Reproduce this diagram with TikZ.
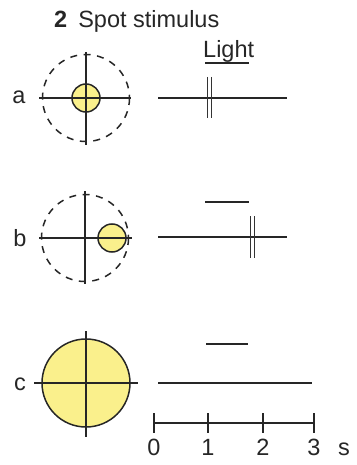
\documentclass[tikz,border=0pt]{standalone}
\usepackage{fontspec}
\setmainfont{Liberation Sans}
\begin{document}
\begin{tikzpicture}[x=1pt,y=-1pt,
  txt/.style={font=\fontsize{23.5}{28}\selectfont, inner sep=0pt, text=black!85},
  axis/.style={line width=1.5pt, black!85},
  dashcirc/.style={line width=1.5pt, black!85, dash pattern=on 7pt off 6.5pt},
  spot/.style={line width=1.5pt, black!85, fill=spotyellow},
  trace/.style={line width=1.2pt, black!85},
  spike/.style={line width=0.9pt, black!80},
  lightbar/.style={line width=1.6pt, black!85},
  scalebar/.style={line width=1.6pt, black!85}]
\definecolor{spotyellow}{RGB}{250,240,140}
\useasboundingbox (0,0) rectangle (356,465);

% title
\node[txt, anchor=base west] (title) at (54,28) {\textbf{2}\hspace{11pt}Spot stimulus};

% ---- row a ----
\coordinate (ca) at (86,98);
\draw[dashcirc] (ca) circle (43.5);
\draw[spot] (ca) circle (14);
\draw[axis] (39,98) -- (131,98);
\draw[axis] (86,52) -- (86,145);
\node[txt, anchor=base] (la) at (19,104) {a};
\node[txt, anchor=base west] (light) at (203,58) {Light};
\draw[lightbar] (205,63) -- (249,63);
\coordinate (ta0) at (158,98); \coordinate (ta1) at (287,98);
\draw[trace] (ta0) -- (ta1);
\draw[spike] (207.5,77) -- (207.5,118);
\draw[spike] (211.5,77) -- (211.5,118);

% ---- row b ----
\coordinate (cb) at (85,238);
\draw[dashcirc] (cb) circle (43.5);
\draw[spot] (112,238) circle (14);
\draw[axis] (39,238) -- (132,238);
\draw[axis] (85,191) -- (85,284);
\node[txt, anchor=base] (lb) at (20,246) {b};
\draw[lightbar] (205,202) -- (249,202);
\coordinate (tb0) at (158,237); \coordinate (tb1) at (287,237);
\draw[trace] (tb0) -- (tb1);
\draw[spike] (250,216) -- (250,258);
\draw[spike] (254,216) -- (254,258);

% ---- row c ----
\coordinate (cc) at (86,383);
\draw[spot] (cc) circle (44);
\draw[axis] (34,383) -- (138,383);
\draw[axis] (86,331) -- (86,437);
\node[txt, anchor=base] (lc) at (20,390) {c};
\draw[lightbar] (206,344) -- (248,344);
\coordinate (tc0) at (158,383); \coordinate (tc1) at (312,383);
\draw[trace] (tc0) -- (tc1);

% ---- scale bar ----
\coordinate (s0) at (154,423); \coordinate (s3) at (314,423);
\draw[scalebar] (s0) -- (s3);
\foreach \x/\l in {154/0,208/1,263/2,314/3}{
  \draw[scalebar] (\x,413) -- (\x,433);
  \node[txt, anchor=base] at (\x,455) {\l};
}
\node[txt, anchor=base] (unit) at (344,455) {s};
\end{tikzpicture}
\end{document}
